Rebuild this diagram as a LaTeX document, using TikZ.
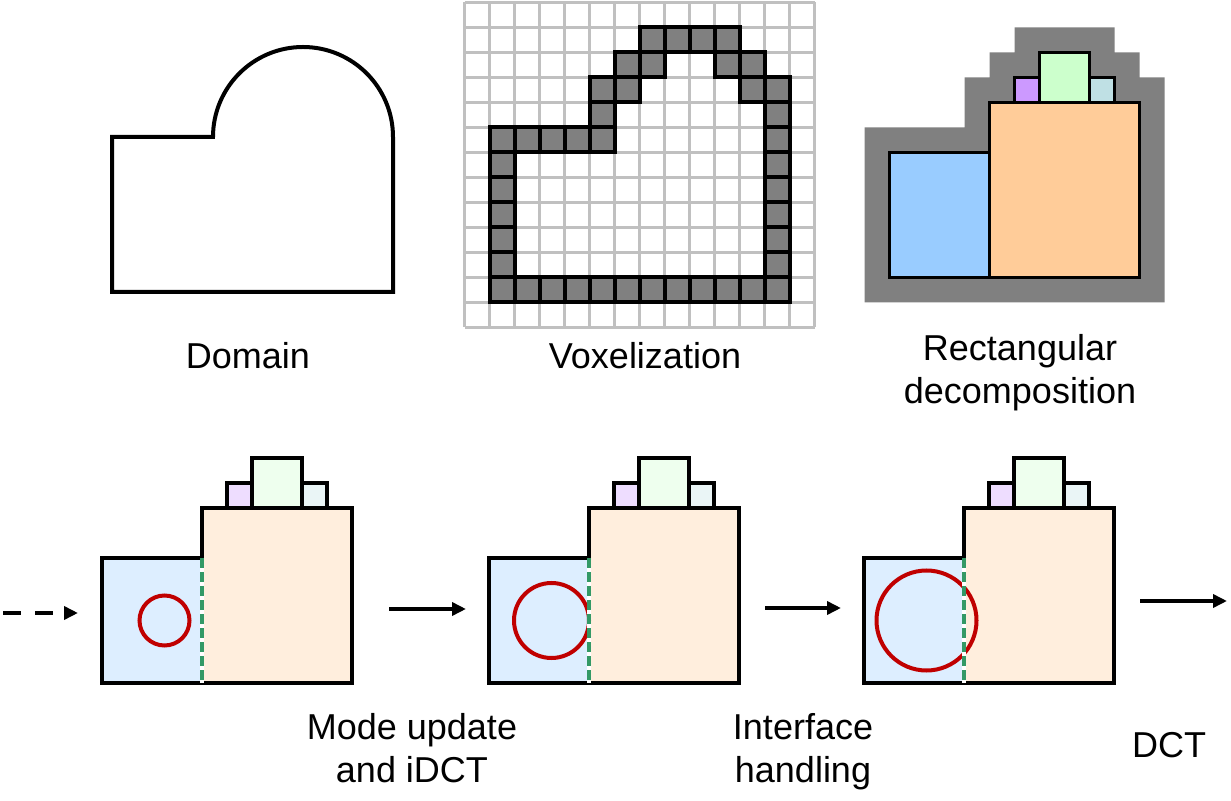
\documentclass[tikz,border=0pt]{standalone}
\usepackage{fontspec}
\setmainfont{Liberation Sans}
\usepackage{xcolor}
\usetikzlibrary{arrows.meta}
\definecolor{voxelGray}{RGB}{128,128,128}
\definecolor{gridGray}{RGB}{192,192,192}
\definecolor{blueCell}{RGB}{153,204,255}
\definecolor{orangeCell}{RGB}{255,204,153}
\definecolor{purpleCell}{RGB}{204,153,255}
\definecolor{greenCell}{RGB}{204,255,204}
\definecolor{tealCell}{RGB}{191,224,228}
\definecolor{waveRed}{RGB}{192,0,0}
\definecolor{faceGreen}{RGB}{51,153,102}

\begin{document}
\begin{tikzpicture}[x=0.5pt, y=-0.5pt,
	every node/.style={font=\fontsize{18}{21.5}\selectfont, inner sep=0pt},
	stageText/.style={anchor=base, align=center},
	gridline/.style={gridGray, line width=1.5pt},
	voxel/.style={fill=voxelGray, draw=black, line width=2pt},
	cell/.style={draw=black, line width=1.7pt},
	wave/.style={waveRed, line width=2pt},
	flow/.style={-{Triangle[length=7pt, width=6.5pt]}, line width=2pt}]
	\useasboundingbox (0,0) rectangle (1231,801);
	
	% Domain
	\draw[line width=2pt] (112,292) -- (112,137) -- (213,137)
		arc[start angle=180, end angle=360, radius=90] -- (393,292) -- cycle;
	
	% Voxelization
	\begin{scope}[shift={(464.5,2.5)}, x=12.5pt, y=-12.5pt]
		\foreach \i in {0,...,14} \draw[gridline] (\i,0) -- (\i,13);
		\foreach \j in {0,...,13} \draw[gridline] (0,\j) -- (14,\j);
		\foreach \c/\r in {7/1,8/1,9/1,10/1, 6/2,7/2,10/2,11/2, 5/3,6/3,11/3,12/3,
			5/4,12/4, 1/5,2/5,3/5,4/5,5/5,12/5}
			\draw[voxel] (\c,\r) rectangle ++(1,1);
		\foreach \r in {6,...,10} {
			\draw[voxel] (1,\r) rectangle ++(1,1);
			\draw[voxel] (12,\r) rectangle ++(1,1);
		}
		\foreach \c in {1,...,12} \draw[voxel] (\c,11) rectangle ++(1,1);
	\end{scope}
	
	% Rectangular decomposition
	\begin{scope}[shift={(839.5,2.5)}, x=12.5pt, y=-12.5pt]
		\fill[voxelGray] (1,5) -| (5,3) -| (6,2) -| (7,1) -| (11,2) -| (12,3) -| (13,12) -- (1,12) -- cycle;
		\draw[cell, fill=blueCell] (2,6) rectangle (6,11);
		\draw[cell, fill=orangeCell] (6,4) rectangle (12,11);
		\draw[cell, fill=purpleCell] (7,3) rectangle (8,4);
		\draw[cell, fill=greenCell] (8,2) rectangle (10,4);
		\draw[cell, fill=tealCell] (10,3) rectangle (11,4);
	\end{scope}
	
	% Time steps on the decomposition
	\foreach \ox/\rad in {52/1, 439/1.5, 814/2} {
		\begin{scope}[shift={(\ox,408)}, x=12.5pt, y=-12.5pt]
			\draw[cell, fill=blueCell!33!white] (2,6) rectangle (6,11);
			\draw[cell, fill=orangeCell!33!white] (6,4) rectangle (12,11);
			\draw[cell, fill=purpleCell!33!white] (7,3) rectangle (8,4);
			\draw[cell, fill=greenCell!33!white] (8,2) rectangle (10,4);
			\draw[cell, fill=tealCell!33!white] (10,3) rectangle (11,4);
			\draw[wave] (4.5,8.5) circle[radius=\rad];
			\draw[white, line width=2.4pt] (6,6) -- (6,11);
			\draw[faceGreen, line width=2pt, dash pattern=on 5pt off 2pt] (6,6) -- (6,11);
		\end{scope}
	}
	
	% Labels
	\node[stageText] (domainText) at (248,369) {Domain};
	\node[stageText] (voxelText) at (645,369) {Voxelization};
	\node[stageText] (decompText) at (1020,404) {Rectangular\\decomposition};
	\node[stageText] (updateText) at (412,782) {Mode update\\and iDCT};
	\node[stageText] (interfaceText) at (803,782) {Interface\\handling};
	\node[stageText] (dctText) at (1169,757) {DCT};
	
	% Arrows
	\coordinate (startFrom) at (3,613);
	\coordinate (startTo) at (78,613);
	\coordinate (updateFrom) at (389,609);
	\coordinate (updateTo) at (466,609);
	\coordinate (interfaceFrom) at (765,608);
	\coordinate (interfaceTo) at (841,608);
	\coordinate (dctFrom) at (1140,601);
	\coordinate (dctTo) at (1227,601);
	\draw[flow, dash pattern=on 9pt off 7pt] (startFrom) -- (startTo);
	\draw[flow] (updateFrom) -- (updateTo);
	\draw[flow] (interfaceFrom) -- (interfaceTo);
	\draw[flow] (dctFrom) -- (dctTo);
\end{tikzpicture}
\end{document}
